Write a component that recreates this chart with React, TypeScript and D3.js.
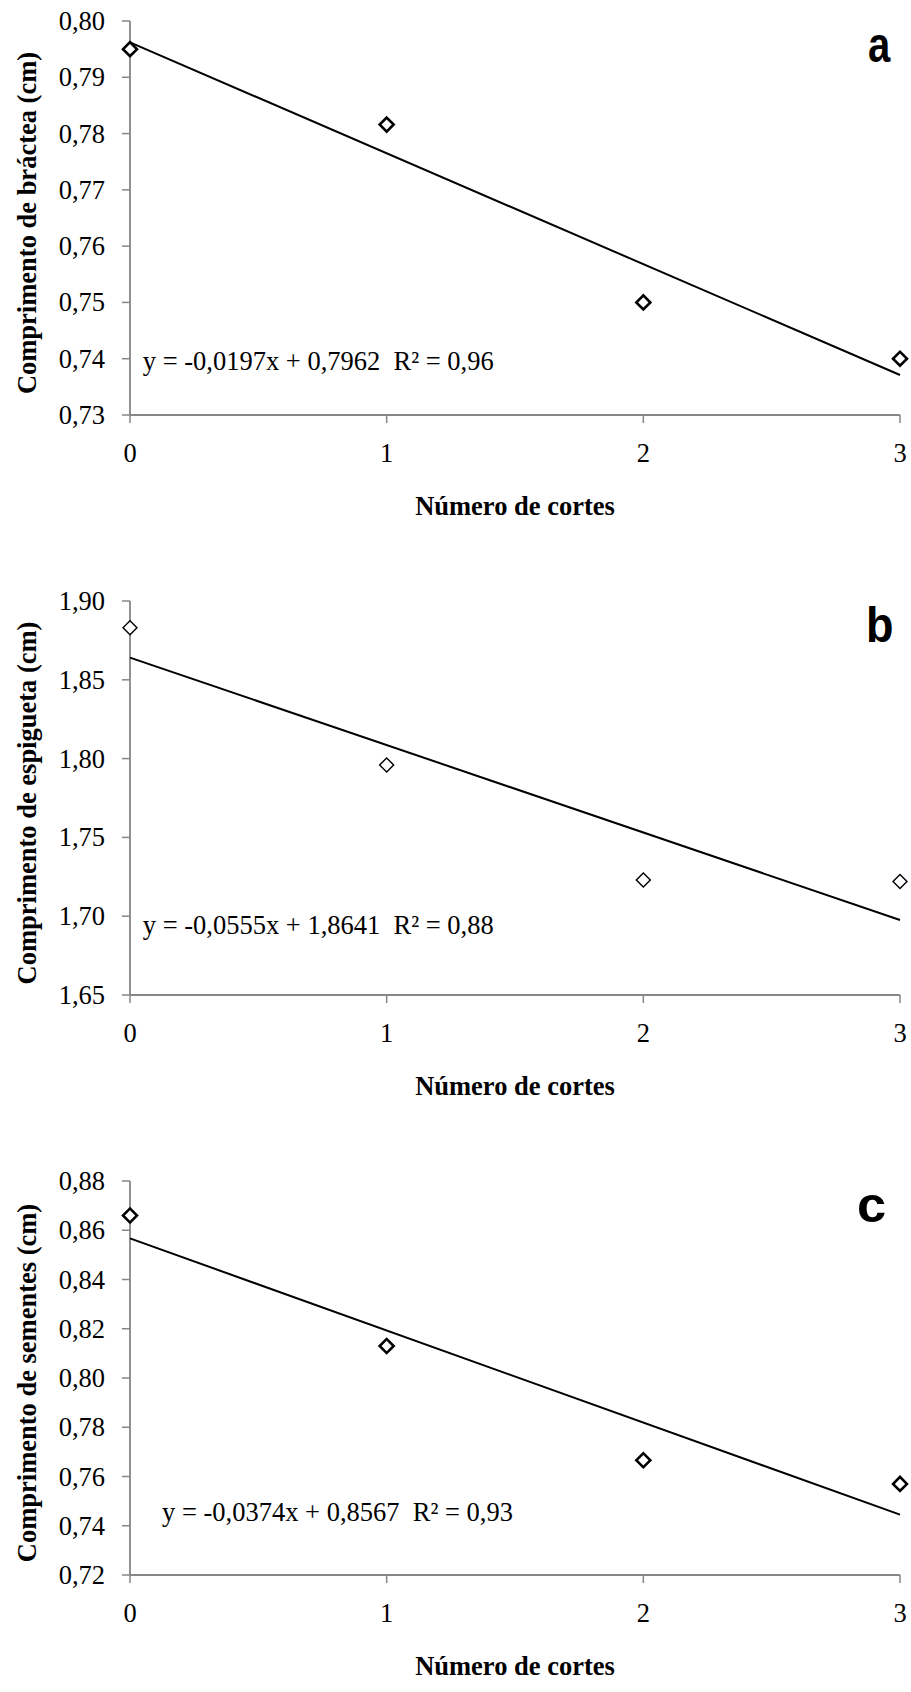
import React from 'react';
import * as d3 from 'd3';

// número de cortes (eixo x)
const cuts = [0, 1, 2, 3];
const xTickLabels = ['0', '1', '2', '3'];

// a - comprimento de bráctea
const bracteaValues = [0.795, 0.7816, 0.75, 0.74];
const bracteaTicks = [0.73, 0.74, 0.75, 0.76, 0.77, 0.78, 0.79, 0.8];
const bracteaTrend = [-0.0197, 0.7962];

// b - comprimento de espigueta
const espiguetaValues = [1.883, 1.796, 1.723, 1.722];
const espiguetaTicks = [1.65, 1.7, 1.75, 1.8, 1.85, 1.9];
const espiguetaTrend = [-0.0555, 1.8641];

// c - comprimento de sementes
const sementesValues = [0.866, 0.813, 0.7666, 0.757];
const sementesTicks = [0.72, 0.74, 0.76, 0.78, 0.8, 0.82, 0.84, 0.86, 0.88];
const sementesTrend = [-0.0374, 0.8567];

const panels = [
  {
    letter: 'a',
    title: 'Comprimento de bráctea (cm)',
    values: bracteaValues,
    ticks: bracteaTicks,
    trend: bracteaTrend,
    equation: 'y = -0,0197x + 0,7962  R² = 0,96',
    eqAt: [0.05, 0.738],
    markerStroke: 2.6,
    letterX: 868,
    letterScale: 0.8,
  },
  {
    letter: 'b',
    title: 'Comprimento de espigueta (cm)',
    values: espiguetaValues,
    ticks: espiguetaTicks,
    trend: espiguetaTrend,
    equation: 'y = -0,0555x + 1,8641  R² = 0,88',
    eqAt: [0.05, 1.6886],
    markerStroke: 1.4,
    letterX: 866,
    letterScale: 0.9,
  },
  {
    letter: 'c',
    title: 'Comprimento de sementes (cm)',
    values: sementesValues,
    ticks: sementesTicks,
    trend: sementesTrend,
    equation: 'y = -0,0374x + 0,8567  R² = 0,93',
    eqAt: [0.125, 0.7421],
    markerStroke: 2.6,
    letterX: 857,
    letterScale: 1.05,
  },
];

const W = 911;
const H = 1692;
const left = 130;
const right = 900;
const plotH = 394;
const panelTops = [21, 601, 1181];

const serif = '"Liberation Serif", "Times New Roman", serif';
const axisColor = '#868686';

const fmt = (v, digits) => v.toFixed(digits).replace('.', ',');

function Panel({ p, top }) {
  const x = d3.scaleLinear().domain([0, 3]).range([left, right]);
  const y = d3
    .scaleLinear()
    .domain([p.ticks[0], p.ticks[p.ticks.length - 1]])
    .range([top + plotH, top]);

  const line = d3
    .line()
    .x((d) => x(d))
    .y((d) => y(p.trend[0] * d + p.trend[1]));

  const diamond = d3.symbol().type(d3.symbolSquare).size(98)();

  return (
    <g>
      {/* eixo y */}
      <line x1={left} x2={left} y1={top} y2={top + plotH} stroke={axisColor} strokeWidth={1.8} />
      {p.ticks.map((t) => (
        <g key={t}>
          <line x1={left - 8} x2={left} y1={y(t)} y2={y(t)} stroke={axisColor} strokeWidth={1.5} />
          <text x={105} y={y(t) + 9} textAnchor="end" fontFamily={serif} fontSize={26.5}>
            {fmt(t, 2)}
          </text>
        </g>
      ))}

      {/* eixo x */}
      <line x1={left} x2={right} y1={top + plotH} y2={top + plotH} stroke={axisColor} strokeWidth={1.8} />
      {cuts.map((c, i) => (
        <g key={c}>
          <line x1={x(c)} x2={x(c)} y1={top + plotH} y2={top + plotH + 8} stroke={axisColor} strokeWidth={1.5} />
          <text x={x(c)} y={top + plotH + 47} textAnchor="middle" fontFamily={serif} fontSize={26.5}>
            {xTickLabels[i]}
          </text>
        </g>
      ))}

      {/* linha de tendência */}
      <path d={line([0, 3])} fill="none" stroke="#000" strokeWidth={2} />

      {/* pontos */}
      {cuts.map((c, i) => (
        <path
          key={c}
          d={diamond}
          transform={`translate(${x(c)},${y(p.values[i])}) rotate(45)`}
          fill="#fff"
          stroke="#000"
          strokeWidth={p.markerStroke}
        />
      ))}

      <text
        x={x(p.eqAt[0])}
        y={y(p.eqAt[1])}
        fontFamily={serif}
        fontSize={26.5}
        style={{ whiteSpace: 'pre' }}
      >
        {p.equation}
      </text>

      <text
        transform={`translate(36,${top + plotH / 2 + 5}) rotate(-90)`}
        textAnchor="middle"
        fontFamily={serif}
        fontWeight="bold"
        fontSize={26.5}
      >
        {p.title}
      </text>

      <text
        x={(left + right) / 2}
        y={top + plotH + 100}
        textAnchor="middle"
        fontFamily={serif}
        fontWeight="bold"
        fontSize={26.5}
      >
        Número de cortes
      </text>

      <text
        transform={`translate(${p.letterX},${top + 41}) scale(${p.letterScale},1)`}
        fontFamily='"Liberation Sans", Arial, sans-serif'
        fontWeight="bold"
        fontSize={50}
      >
        {p.letter}
      </text>
    </g>
  );
}

export default function App() {
  return (
    <svg
      width={W}
      height={H}
      style={{ position: 'absolute', left: 0, top: 0, background: '#fff' }}
    >
      <rect width={W} height={H} fill="#fff" />
      {panels.map((p, i) => (
        <Panel key={p.letter} p={p} top={panelTops[i]} />
      ))}
    </svg>
  );
}
